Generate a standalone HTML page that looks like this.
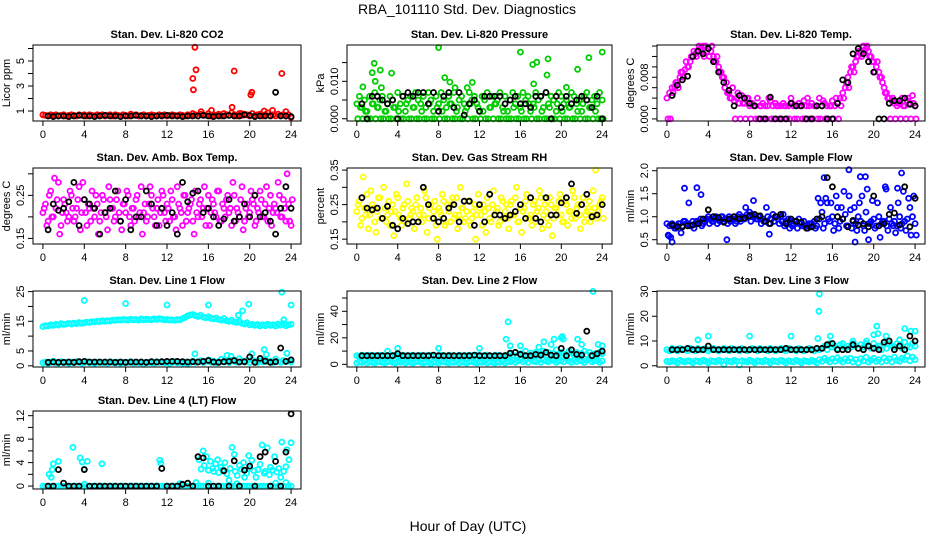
<!DOCTYPE html>
<html><head><meta charset="utf-8"><style>
html,body{margin:0;padding:0;background:#fff;}
svg{display:block;font-family:"Liberation Sans",sans-serif;}
</style></head><body>
<svg id="chart" width="936" height="540" viewBox="0 0 936 540" xmlns="http://www.w3.org/2000/svg">
<rect x="0" y="0" width="936" height="540" fill="#fff"/>
<text x="467" y="14" font-size="14" text-anchor="middle">RBA_101110  Std. Dev. Diagnostics</text>
<text x="468" y="531" font-size="14" text-anchor="middle">Hour of Day (UTC)</text>
</svg>
<script>
// ---------- data (hour-of-day step 0.25 for colored, 0.5 for black) ----------
const xTicks = [0,4,8,12,16,20,24];

const co2A = [0.7,0.65,0.6,0.7,0.65,0.7,0.6,0.65,0.7,0.6,0.65,0.7,0.65,0.6,0.7,0.65,0.7,0.6,0.7,0.65,0.6,0.7,0.65,0.7,0.6,0.65,0.7,0.6,0.7,0.65,0.6,0.7,0.65,0.6,0.75,0.65,0.7,0.6,0.65,0.7,0.6,0.65,0.7,0.65,0.6,0.7,0.65,0.7,0.6,0.65,0.7,0.65,0.6,0.7,0.65,0.6,0.7,0.65,0.8,0.7,0.6,0.75,0.7,0.65,0.8,0.6,0.7,0.65,0.75,0.6,0.8,0.7,0.65,0.85,0.7,0.6,0.8,0.65,0.75,0.7,0.6,0.8,0.65,0.7,0.75,0.6,0.7,0.85,0.65,0.7,0.6,0.75,0.65,0.7,0.6,0.7,0.5];
const co2OutT = [14.5,14.55,14.7,14.8,15.3,16.3,18.3,18.5,19.2,20.1,20.2,21.4,22.2,23.1,23.5];
const co2OutV = [3.6,2.7,6.1,4.3,0.95,1.05,1.3,4.2,0.8,2.3,2.5,1.0,1.05,4.0,0.95];
const co2K = [0.6,0.55,0.6,0.6,0.55,0.6,0.65,0.6,0.6,0.55,0.6,0.65,0.6,0.6,0.55,0.6,0.6,0.65,0.6,0.6,0.55,0.6,0.6,0.65,0.6,0.6,0.55,0.6,0.6,0.6,0.65,0.6,0.55,0.6,0.6,0.65,0.6,0.6,0.7,0.65,0.55,0.6,0.6,0.6,2.5,0.6,0.6,0.55];

const presA = [0.004,0.006,0.003,0.005,0.002,0.006,0.004,0.007,0.003,0.005,0.006,0.002,0.004,0.006,0.005,0.003,0.007,0.004,0.006,0.002,0.005,0.006,0.003,0.007,0.005,0.004,0.006,0.003,0.007,0.005,0.002,0.006,0.004,0.007,0.005,0.003,0.006,0.004,0.007,0.002,0.005,0.006,0.004,0.003,0.007,0.005,0.006,0.004,0.002,0.006,0.005,0.007,0.003,0.006,0.004,0.005,0.007,0.003,0.006,0.002,0.005,0.007,0.004,0.006,0.003,0.007,0.005,0.006,0.002,0.004,0.007,0.005,0.006,0.003,0.007,0.004,0.006,0.005,0.002,0.007,0.006,0.004,0.005,0.003,0.007,0.006,0.004,0.005,0.002,0.006,0.007,0.003,0.005,0.006,0.004,0.007,0.005];
const presB = [0,0.003,0,0.002,0,0,0.004,0,0.003,0,0,0.002,0,0,0.003,0,0.002,0,0,0.004,0,0,0.003,0,0,0.002,0,0,0.004,0,0,0.003,0,0.002,0,0,0.004,0,0,0.003,0,0,0.002,0,0.004,0,0,0.003,0,0.002,0,0,0.003,0,0.004,0,0,0.002,0,0,0,0.003,0,0,0.002,0,0,0.004,0,0.003,0,0,0.002,0,0,0.003,0,0,0.004,0,0.002,0,0,0.003,0,0,0.002,0,0.004,0,0,0.003,0,0.002,0,0,0];
const presOutT = [0.6,1.5,1.7,1.8,2.3,2.4,3.4,8.0,8.6,9.1,9.6,10.8,11.3,16.0,17.2,17.3,17.6,18.6,18.7,20.5,21.6,22.7,24.0];
const presOutV = [0.0085,0.0123,0.0148,0.0100,0.0130,0.0083,0.0122,0.019,0.0110,0.0098,0.0083,0.0083,0.0097,0.0178,0.0145,0.0093,0.0151,0.0117,0.0160,0.0084,0.0132,0.0163,0.0178];
const presK = [0.004,0,0.006,0.006,0.005,0.004,0.005,0,0.006,0.007,0.006,0.007,0.007,0.004,0.007,0.002,0.006,0.007,0.003,0.007,0.001,0.004,0.005,0.002,0.006,0.006,0.006,0.006,0.004,0.005,0.006,0.004,0.004,0.003,0.006,0.006,0.007,0,0.006,0.003,0.006,0.004,0.005,0.006,0.005,0.003,0.006,0];

const tempA = [0.004,0.005,0.006,0.006,0.007,0.008,0.009,0.0095,0.010,0.011,0.012,0.0125,0.013,0.0135,0.014,0.014,0.0135,0.013,0.012,0.011,0.010,0.009,0.008,0.007,0.005,0.004,0.0035,0.004,0.003,0.0045,0.003,0.004,0.0025,0.003,0.0025,0.004,0.0025,0.003,0.0025,0.0025,0.0035,0.0025,0.003,0.0025,0.0025,0.003,0.0025,0.0025,0.004,0.0025,0.0025,0.003,0.0025,0.0035,0.0025,0.0025,0.003,0.0025,0.0025,0.004,0.0025,0.003,0.0025,0.0025,0.0035,0.0025,0.003,0.004,0.005,0.006,0.008,0.009,0.010,0.011,0.012,0.013,0.014,0.0135,0.013,0.012,0.011,0.010,0.009,0.008,0.006,0.005,0.004,0.0035,0.003,0.0025,0.003,0.004,0.0025,0.0035,0.003,0.0045,0.0025];
const tempB = [0,0,0.005,0.007,0.006,0.009,0.008,0.011,0.010,0.012,0.013,0.012,0.014,0.013,0.012,0.013,0.012,0.014,0.011,0.012,0.009,0.008,0.006,0.005,0.004,0.006,0,0.005,0,0.003,0,0.004,0,0.0025,0,0,0.0025,0,0,0.004,0,0,0.0025,0,0,0.0025,0,0,0.003,0,0,0.0025,0,0,0.004,0,0,0.0025,0,0,0.0035,0,0,0.0025,0,0.004,0,0.0025,0.004,0.007,0.006,0.010,0.009,0.012,0.013,0.012,0.013,0.014,0.012,0.011,0.009,0.011,0.008,0.007,0.005,0.004,0,0.004,0,0.003,0,0.0025,0,0.004,0,0.003,0];
const tempK = [0.0045,0.0065,0.0075,0.0082,0.012,0.013,0.0125,0.0135,0.011,0.009,0.007,0.0055,0.0025,0.0045,0.004,0.003,0.0025,0,0,0.0042,0,0,0,0.003,0.0025,0.0025,0,0,0.0025,0.0025,0,0,0.003,0.0075,0.007,0.0125,0.0135,0.0125,0.011,0.009,0,0,0.003,0.0035,0.0035,0.004,0.0028,0.0025];

const ambA = [0.21,0.23,0.19,0.26,0.2,0.22,0.28,0.18,0.24,0.21,0.2,0.25,0.19,0.22,0.27,0.21,0.24,0.18,0.22,0.26,0.2,0.23,0.19,0.25,0.21,0.17,0.24,0.22,0.2,0.26,0.19,0.23,0.21,0.25,0.18,0.22,0.24,0.2,0.27,0.21,0.19,0.23,0.25,0.2,0.22,0.18,0.26,0.21,0.23,0.19,0.24,0.2,0.27,0.22,0.18,0.25,0.21,0.23,0.19,0.26,0.2,0.24,0.22,0.18,0.25,0.21,0.23,0.2,0.26,0.19,0.22,0.24,0.21,0.18,0.25,0.22,0.2,0.27,0.19,0.23,0.21,0.24,0.18,0.22,0.26,0.2,0.23,0.19,0.25,0.21,0.22,0.28,0.2,0.24,0.19,0.23,0.18];
const ambB = [0.22,0.18,0.25,0.2,0.29,0.24,0.16,0.21,0.23,0.19,0.26,0.22,0.2,0.24,0.17,0.28,0.21,0.23,0.19,0.22,0.25,0.16,0.21,0.24,0.2,0.27,0.22,0.19,0.24,0.21,0.17,0.23,0.26,0.2,0.22,0.19,0.25,0.21,0.16,0.23,0.2,0.27,0.22,0.18,0.24,0.21,0.25,0.19,0.22,0.26,0.2,0.17,0.23,0.21,0.25,0.19,0.22,0.24,0.16,0.21,0.23,0.2,0.27,0.22,0.18,0.24,0.21,0.26,0.19,0.23,0.2,0.25,0.22,0.28,0.19,0.21,0.24,0.17,0.22,0.2,0.26,0.23,0.19,0.21,0.24,0.2,0.27,0.22,0.18,0.23,0.21,0.25,0.2,0.22,0.3,0.19,0.24];
const ambK = [0.17,0.23,0.215,0.22,0.235,0.28,0.18,0.24,0.23,0.22,0.16,0.21,0.22,0.26,0.19,0.24,0.17,0.2,0.2,0.26,0.23,0.18,0.22,0.18,0.21,0.16,0.28,0.235,0.255,0.26,0.21,0.22,0.2,0.18,0.195,0.24,0.19,0.2,0.23,0.2,0.25,0.2,0.21,0.19,0.16,0.22,0.27,0.22];

const rhA = [0.23,0.26,0.21,0.24,0.28,0.22,0.25,0.2,0.23,0.27,0.21,0.24,0.22,0.19,0.25,0.23,0.27,0.21,0.24,0.2,0.26,0.22,0.23,0.25,0.2,0.24,0.22,0.27,0.21,0.25,0.23,0.19,0.24,0.22,0.26,0.2,0.23,0.25,0.21,0.27,0.22,0.24,0.2,0.23,0.26,0.21,0.25,0.22,0.24,0.19,0.23,0.27,0.21,0.25,0.22,0.24,0.2,0.26,0.23,0.21,0.25,0.22,0.27,0.2,0.24,0.23,0.26,0.21,0.22,0.25,0.2,0.24,0.27,0.22,0.23,0.19,0.25,0.21,0.24,0.26,0.22,0.2,0.25,0.23,0.21,0.27,0.24,0.22,0.25,0.2,0.23,0.26,0.22,0.24,0.21,0.25,0.27];
const rhB = [0.25,0.19,0.33,0.22,0.18,0.29,0.24,0.17,0.27,0.21,0.3,0.2,0.26,0.23,0.16,0.28,0.22,0.19,0.25,0.31,0.21,0.24,0.18,0.27,0.22,0.2,0.29,0.17,0.24,0.21,0.26,0.15,0.23,0.28,0.19,0.25,0.2,0.27,0.22,0.18,0.3,0.24,0.21,0.26,0.19,0.23,0.15,0.28,0.22,0.25,0.17,0.24,0.2,0.29,0.23,0.19,0.27,0.21,0.25,0.18,0.26,0.22,0.3,0.2,0.17,0.24,0.28,0.21,0.19,0.26,0.23,0.29,0.18,0.25,0.21,0.27,0.16,0.24,0.22,0.28,0.2,0.26,0.19,0.23,0.29,0.21,0.25,0.18,0.27,0.22,0.24,0.2,0.29,0.35,0.23,0.26,0.21];
const rhK = [0.27,0.24,0.235,0.24,0.21,0.245,0.19,0.18,0.21,0.195,0.2,0.2,0.3,0.25,0.21,0.2,0.21,0.24,0.25,0.2,0.26,0.26,0.19,0.25,0.2,0.28,0.22,0.22,0.21,0.22,0.23,0.25,0.21,0.27,0.21,0.2,0.27,0.22,0.22,0.255,0.27,0.31,0.225,0.25,0.28,0.215,0.22,0.25];

const flowA = [0.85,0.8,0.85,0.75,0.8,0.85,0.8,0.9,0.85,0.8,0.9,0.85,0.9,0.95,0.85,0.95,1.0,0.95,0.9,1.0,0.95,1.0,0.9,0.95,1.0,0.95,1.0,0.9,1.05,1.0,0.95,1.05,1.1,1.05,1.0,0.95,1.0,0.95,0.9,1.0,0.95,1.05,1.0,0.95,1.0,1.05,0.9,0.95,0.9,0.85,0.9,0.95,0.85,0.9,0.8,0.85,0.85,0.9,0.8,0.95,1.1,0.85,1.3,0.9,1.0,0.85,1.2,0.9,0.95,1.05,0.8,1.15,0.9,0.85,1.0,0.9,0.8,1.1,0.85,0.9,0.95,0.8,1.0,0.85,0.9,0.8,0.95,0.85,0.9,0.8,1.0,0.85,0.9,0.95,1.2,1.0,0.85];
const flowB = [0.6,0.55,0.8,0.75,0.85,0.65,0.9,0.85,1.3,0.8,0.75,0.9,0.85,0.8,0.9,0.95,0.85,0.9,0.95,0.85,0.9,1.0,0.95,0.85,0.9,0.95,0.85,1.0,0.9,0.95,1.2,1.0,0.9,1.35,0.95,1.0,0.85,0.9,1.2,0.85,0.95,0.9,1.0,0.85,0.9,0.8,0.85,0.75,0.8,0.9,0.75,0.85,0.8,0.8,0.75,0.85,0.8,0.75,1.4,1.3,0.75,1.4,0.95,1.3,0.7,1.45,0.75,1.2,1.55,0.8,1.45,0.75,1.2,0.7,1.3,1.45,0.7,1.6,0.85,1.35,0.75,1.3,0.55,0.9,1.65,0.7,1.2,0.8,0.65,1.3,0.75,1.55,0.7,1.4,0.6,1.45,0.6];
const flowOutT = [1.7,2.9,3.3,17.6,18.2,18.7,19.2,19.5,22.7,15.2,5.8,9.9,0.5,0.2,21.2,22.3];
const flowOutV = [1.62,1.63,1.48,2.02,0.45,1.87,1.87,0.5,1.95,1.85,0.5,0.62,0.45,0.58,1.6,1.62];
const flowK = [0.82,0.78,0.78,0.8,0.82,0.85,0.95,1.15,1.0,0.98,0.88,0.95,1.0,0.95,0.97,1.02,1.05,1.02,0.9,0.85,1.0,1.05,0.85,0.95,0.9,0.88,0.75,0.78,0.95,1.0,1.85,1.65,1.0,0.95,0.78,0.92,0.82,0.85,0.78,1.45,0.8,0.85,1.05,1.08,0.82,1.65,0.78,1.4];

const l1Hi = [13.2,13.5,13.4,13.8,13.6,14,13.7,14.2,13.9,14.1,14.3,14.1,14.4,14.2,14.6,14.3,14.5,14.7,14.6,14.9,14.8,15,14.9,15.2,15,15.2,15.1,15.4,15.3,15.5,15.4,15.6,15.5,15.4,15.7,15.5,15.6,15.4,15.8,15.5,15.7,15.6,15.5,15.8,15.6,15.9,15.7,15.5,15.6,15.4,15.5,15.3,15.6,15.5,15.9,16.3,16.8,17.1,17.3,16.9,16.6,17,16.4,16.2,16.5,16,15.8,16.1,15.6,15.4,15.9,15.2,15,15.4,14.8,14.6,15,14.3,14.1,14.5,13.8,14,13.6,13.9,13.4,13.8,13.5,14,13.6,13.8,13.4,14.1,13.7,14.2,13.5,13.8,14];
const l1Lo = [1,1.3,0.8,1.2,1.6,1,0.9,1.4,1.1,1.2,0.8,1.3,1,1.5,1.2,0.9,1.1,1.4,1,1.2,0.8,1.3,1.1,1,1.2,0.9,1.4,1.1,1,1.3,0.8,1.2,1,1.1,1.4,0.9,1.2,1,1.3,0.5,1.1,1.2,1,0.9,1.4,1.1,1.3,1,1.2,0.8,1.1,1.4,1,1.2,0.9,1.3,0.6,1.1,1.6,1.2,1.4,1.8,1.1,1.5,2,1.2,1.6,1,1.4,2.2,1.3,1.7,1.1,1.9,1.5,1.2,2.4,1.6,1.3,1.8,1.1,2,1.5,1.2,1.7,1.3,2.1,1.4,1.6,1.1,2.3,1.5,1.2,1.8,1.4,1.6,1.3];
const l1OutT = [4,8,12,14.7,16,17.8,18.2,18.9,19.3,19.9,20.2,21.4,21.6,23.1,23.3,23.6,24];
const l1OutV = [22,21,20.5,4,20.5,3.5,3.2,17,18.5,20.8,4,5.5,3.8,24.8,15.5,4.2,20.5];
const l1K = [1.2,1.3,1.2,1.2,1.3,1.2,1.4,1.5,1.3,1.3,1.3,1.3,1.3,1.2,1.3,1.2,1.3,1.3,1.3,1.2,1.4,1.3,1.4,1.5,1.5,1.5,1.4,1.3,1.4,1.3,1.5,1.8,1.3,1.2,1.4,1.5,1.8,1.3,1.4,3.0,1.2,2.5,1.6,1.2,1.4,6.0,1.5,2.0];

const l2A = [6.5,6,7,6.5,6,7,6.5,6.5,6,7,6.5,6,7,6.5,6.5,7,6,6.5,7,6.5,6,6.5,7,6.5,6,7,6.5,6.5,6,7,6.5,6,6.5,7,6.5,6,7,6.5,6.5,6,7,6.5,6,6.5,7,6.5,6,7,6.5,6.5,6,7,6.5,6,6.5,7,6.5,6,7,6.5,8,7,9,6.5,8,7.5,10,7,8.5,6.5,9,7.5,8,10,7,9,6.5,8,11,7.5,9,8,7,10,8.5,7,9,6.5,8,10,7.5,9,7,8,6.5,9,8];
const l2B = [1,2,1.5,2.5,1,2,1.5,1,2.5,2,1.5,1,2,2.5,1.5,1,2,1.5,2.5,1,2,1.5,1,2,2.5,1.5,1,2,1.5,0.5,2,1.5,1,2.5,2,1.5,1,2,1.5,2.5,1,2,1.5,1,2,2.5,1.5,1,2,1.5,2.5,1,2,1.5,1,2,1.5,2.5,1,2,2,3,1.5,2.5,3.5,2,3,1.5,4,2.5,2,3,1.5,3.5,2.5,2,4,3,1.5,2.5,3,2,4.5,2.5,1.5,3,2,3.5,2.5,1.5,3,4,2,2.5,3,1.5,2.5];
const l2OutT = [3,4,8,12,14.6,14.8,15,16,17.8,18.3,19,19.3,20,20.1,20.2,21.6,22,23.1,23.6,24];
const l2OutV = [10,12,12,12,19,32,14,14,13,17,15,19,20,21,19,19,15,55,15,14];
const l2K = [6.5,6.5,6.5,6.5,6.5,6.5,6.5,8,6.5,6.5,6.5,6.5,6.5,6.5,7,6.5,6.5,6.5,6.5,6.5,6.5,6.5,7,6.5,6.5,6.5,6.5,6.5,6.5,8.5,9,7.5,6.5,6.5,7.5,7,9,7,6.5,12,6.5,11,7.5,7,25,6.5,8,10];

const l3A = [6.5,6,7,6.5,6,7,6.5,6.5,6,7,6.5,6,7,6.5,6.5,7,6,6.5,7,6.5,6,6.5,7,6.5,6,7,6.5,6.5,6,7,6.5,6,6.5,7,6.5,6,7,6.5,6.5,6,7,6.5,6,6.5,7,6.5,6,7,6.5,6.5,6,7,6.5,6,6.5,7,6.5,6,7,6.5,7,8,6.5,9,7.5,8,7,8.5,9,7,8,7.5,9,8,7,8.5,7.5,9,8,7,9,7.5,8,6.5,8.5,7,9,8,7.5,9,8,7,9.5,8,7.5,9,8];
const l3B = [1.8,1.5,2,1.8,1.2,2.2,1.8,1.5,2,1.8,1.2,2,1.8,1.5,2.2,1.8,1.2,2,1.8,1.5,2.2,1.8,0.5,2,1.8,1.5,2.2,1.8,0.3,2,1.8,1.5,2.2,1.8,1.2,2,1.8,1.5,2.2,1.8,1.2,2,1.8,1.5,2.2,1.8,1.2,2,1.8,1.5,2.2,1.8,1.2,2,1.8,1.5,2.2,1.8,1.2,2.5,1.8,3,2.2,1.5,2.8,1.8,3.2,2.2,1.5,2.8,2,3,1.5,2.5,1.2,2.8,2,3.5,1.5,2.2,3,1.8,2.5,1.5,3.2,2,2.8,1.5,3.5,2.2,1.8,3,2.5,4,2,3.5,2.5];
const l3OutT = [3,4,8,12,14.6,14.7,14.75,15.8,18,19.3,20,20.3,20.4,21.2,22.5,23,23.6,24];
const l3OutV = [10.5,12,12,12,11,22,29,12,10,10,12.5,16,13,12,10.5,15,14,14];
const l3K = [6.5,6.5,6.5,7,6.5,6.5,6.5,8,6.5,6.5,6.5,6.5,6.5,6.5,6.5,6.5,6.5,6.5,6.5,6.5,6.5,6.5,7,6.5,6.5,6.5,6.5,6.5,7,7,8.5,9,6.5,6.5,6.5,8.5,7,6.5,8,7,6.5,9.5,10,6.5,8,6.5,12,10];

const l4A = [0,0,0,0,0,0,0,0,0,0,0,0,0,0,0,0,0.3,0,0,0,0,0,0,0,0,0,0,0,0,0,0,0,0,0,0,0,0,0,0,0,0,0,0,0,0,0,0,0,0,0,0,0,0,0.4,0,0,0,0,0,0,0,0,0,0,0.5,0,0,0,0,0,0,0,0,0,0,0.4,0,0,0,0,0,0,0,0,0,0,0,0,0,0,0.5,0,0,0,0.6,0,0];
const l4BT = [0.6,0.8,0.9,1,1.5,2.9,3.6,3.8,4,4.3,5.7,11.3,11.4,14.8,15.1,15.3,15.5,15.6,15.8,16,16.2,16.4,16.5,16.7,16.9,17,17.2,17.4,17.6,17.8,18,18.1,18.3,18.5,18.6,18.8,19,19.2,19.4,19.5,19.7,19.9,20,20.2,20.4,20.6,20.8,21,21.2,21.4,21.5,21.7,21.9,22,22.2,22.4,22.6,22.8,23,23.1,23.3,23.5,23.6,23.8,24];
const l4BV = [2,1.5,2.8,3.8,4.2,6.6,4.8,4.1,2.9,4.2,3.8,4.4,3.9,0.6,4.5,2.9,6,3.5,5,2.7,4.2,3,2.5,3.8,4.5,2.3,3.2,2.8,4,2.1,1,3,6.6,5.4,2.5,1.8,3.5,2.9,4,1.5,2.2,5.2,3,4.4,2.6,1.5,2.8,3.7,7,2.2,2.5,6.5,1.9,3.2,2.7,5.0,2.4,3,1.5,7.5,2.5,3.3,6.2,4.5,7.4];
const l4K = [0,0,2.8,0.5,0,0,0,2.8,0,0,0,0,0,0,0,0,0,0,0,0,0,0,3,0,0,0,0.3,0.5,0,5,4.8,0,0,0,2.6,0,4.3,0,2.7,3.4,0,5,5.8,0,4.2,0,5.8,12.3];

// ---------- layout ----------
const colLeft = [33,347,657], colW = [268,265,268];
const rowTop = [45,168,291,411], rowH = [76,76,76,78];
const XMIN = -0.96, XMAX = 24.96;
const NS = "http://www.w3.org/2000/svg";
const svg = document.getElementById('chart');

function grid(step, n, start){ const t=[]; for(let i=0;i<n;i++) t.push(start+i*step); return t; }
function seriesReg(vals, step, start, color){ return {t: grid(step, vals.length, start), v: vals, color}; }
function seriesXY(t, v, color){ return {t, v, color}; }

const RED="#ff0000", GRN="#00cd00", MAG="#ff00ff", YEL="#ffff00", BLU="#0000ff", CYA="#00ffff", BLK="#000000";

const panels = [
 {name:'co2', title:'Stan. Dev. Li-820 CO2', ylab:'Licor ppm', r:0,c:0, dom:[0.2,6.28], ticks:[1,2,3,4,5,6], labels:{1:'1',3:'3',5:'5'},
  series:[seriesReg(co2A,0.25,0,RED), seriesXY(co2OutT,co2OutV,RED), seriesReg(co2K,0.5,0.5,BLK)]},
 {name:'pressure', title:'Stan. Dev. Li-820 Pressure', ylab:'kPa', r:0,c:1, dom:[-0.0006,0.0197], ticks:[0,0.005,0.01,0.015], labels:{0:'0.000',0.01:'0.010'},
  series:[seriesReg(presB,0.25,0.1,GRN), seriesReg(presA,0.25,0,GRN), seriesXY(presOutT,presOutV,GRN), seriesReg(presK,0.5,0.5,BLK)]},
 {name:'temp', title:'Stan. Dev. Li-820 Temp.', ylab:'degrees C', r:0,c:2, dom:[-0.0004,0.0142], ticks:[0,0.002,0.004,0.006,0.008,0.01,0.012,0.014], labels:{0:'0.000',0.008:'0.008'},
  series:[seriesReg(tempB,0.25,0.1,MAG), seriesReg(tempA,0.25,0,MAG), seriesReg(tempK,0.5,0.5,BLK)]},
 {name:'amb-box-temp', title:'Stan. Dev. Amb. Box Temp.', ylab:'degrees C', r:1,c:0, dom:[0.137,0.3135], ticks:[0.15,0.2,0.25,0.3], labels:{0.15:'0.15',0.25:'0.25'},
  series:[seriesReg(ambA,0.25,0,MAG), seriesReg(ambB,0.25,0.12,MAG), seriesReg(ambK,0.5,0.5,BLK)]},
 {name:'gas-rh', title:'Stan. Dev. Gas Stream RH', ylab:'percent', r:1,c:1, dom:[0.136,0.356], ticks:[0.15,0.2,0.25,0.3,0.35], labels:{0.15:'0.15',0.25:'0.25',0.35:'0.35'},
  series:[seriesReg(rhA,0.25,0,YEL), seriesReg(rhB,0.25,0.12,YEL), seriesReg(rhK,0.5,0.5,BLK)]},
 {name:'sample-flow', title:'Stan. Dev. Sample Flow', ylab:'ml/min', r:1,c:2, dom:[0.407,2.059], ticks:[0.5,1,1.5,2], labels:{0.5:'0.5',1:'1.0',1.5:'1.5',2:'2.0'},
  series:[seriesReg(flowA,0.25,0,BLU), seriesReg(flowB,0.25,0.12,BLU), seriesXY(flowOutT,flowOutV,BLU), seriesReg(flowK,0.5,0.5,BLK)]},
 {name:'line1-flow', title:'Stan. Dev. Line 1 Flow', ylab:'ml/min', r:2,c:0, dom:[-0.4,25.2], ticks:[0,5,10,15,20,25], labels:{0:'0',5:'5',15:'15',25:'25'},
  series:[seriesReg(l1Hi,0.25,0,CYA), seriesReg(l1Lo,0.25,0,CYA), seriesXY(l1OutT,l1OutV,CYA), seriesReg(l1K,0.5,0.5,BLK)]},
 {name:'line2-flow', title:'Stan. Dev. Line 2 Flow', ylab:'ml/min', r:2,c:1, dom:[-2,55.3], ticks:[0,10,20,30,40,50], labels:{0:'0',20:'20',40:'40'},
  series:[seriesReg(l2A,0.25,0,CYA), seriesReg(l2B,0.25,0,CYA), seriesXY(l2OutT,l2OutV,CYA), seriesReg(l2K,0.5,0.5,BLK)]},
 {name:'line3-flow', title:'Stan. Dev. Line 3 Flow', ylab:'ml/min', r:2,c:2, dom:[-0.5,30.2], ticks:[0,10,20,30], labels:{0:'0',10:'10',20:'20',30:'30'},
  series:[seriesReg(l3A,0.25,0,CYA), seriesReg(l3B,0.25,0,CYA), seriesXY(l3OutT,l3OutV,CYA), seriesReg(l3K,0.5,0.5,BLK)]},
 {name:'line4-flow', title:'Stan. Dev. Line 4 (LT) Flow', ylab:'ml/min', r:3,c:0, dom:[-0.5,12.8], ticks:[0,2,4,6,8,10,12], labels:{0:'0',4:'4',8:'8',12:'12'},
  series:[seriesReg(l4A,0.25,0,CYA), seriesXY(l4BT,l4BV,CYA), seriesReg(l4K,0.5,0.5,BLK)]}
];

function mk(tag, attrs, parent){ const e=document.createElementNS(NS,tag); for(const k in attrs) e.setAttribute(k,attrs[k]); (parent||svg).appendChild(e); return e; }

panels.forEach(p=>{
  const L=colLeft[p.c], W=colW[p.c], T=rowTop[p.r], H=rowH[p.r], B=T+H;
  const xs = v => L + (v-XMIN)/(XMAX-XMIN)*W;
  const ys = v => B - (v-p.dom[0])/(p.dom[1]-p.dom[0])*H;
  const g = mk('g',{});
  
  
  const tt = mk('text',{x:(L+W/2), y:T-7, 'font-size':11, 'font-weight':'bold', 'text-anchor':'middle'}, g);
  tt.textContent = p.title;
  
  
  const yl = mk('text',{transform:`translate(${L-23},${T+H/2}) rotate(-90)`, 'font-size':11, 'text-anchor':'middle'}, g);
  yl.textContent = p.ylab;
  
  
  const pg = mk('g',{fill:'none','stroke-width':1.8}, g);
  
  
  p.series.forEach(s=>{
    const n=Math.min(s.t.length,s.v.length);
    for(let i=0;i<n;i++){
      if(s.t[i]>24.2) continue;
      const c = mk('circle',{cx:xs(s.t[i]).toFixed(1), cy:ys(s.v[i]).toFixed(1), r:2.5, stroke:s.color}, pg);
      
      
    }
  });
  const bx = mk('rect',{x:L,y:T,width:W,height:H,fill:'none',stroke:'#000','stroke-width':1}, g);
  
  
  const xa = mk('g',{}, g);
  
  
  mk('line',{x1:xs(xTicks[0]),x2:xs(xTicks[xTicks.length-1]),y1:B,y2:B,stroke:'#000'},xa);
  xTicks.forEach(v=>{
    mk('line',{x1:xs(v),x2:xs(v),y1:B,y2:B+5,stroke:'#000'},xa);
    const t=mk('text',{x:xs(v),y:B+17,'font-size':11,'text-anchor':'middle'},xa);
    t.textContent=v;
  });
  const ya = mk('g',{}, g);
  
  
  mk('line',{x1:L,x2:L,y1:ys(p.ticks[0]),y2:ys(p.ticks[p.ticks.length-1]),stroke:'#000'},ya);
  p.ticks.forEach(v=>{
    mk('line',{x1:L-5,x2:L,y1:ys(v),y2:ys(v),stroke:'#000'},ya);
    const lab = p.labels[v];
    if(lab!==undefined){
      const t=mk('text',{transform:`translate(${L-9},${ys(v)}) rotate(-90)`,'font-size':11,'text-anchor':'middle'},ya);
      t.textContent=lab;
    }
  });
});
</script>
</body></html>
